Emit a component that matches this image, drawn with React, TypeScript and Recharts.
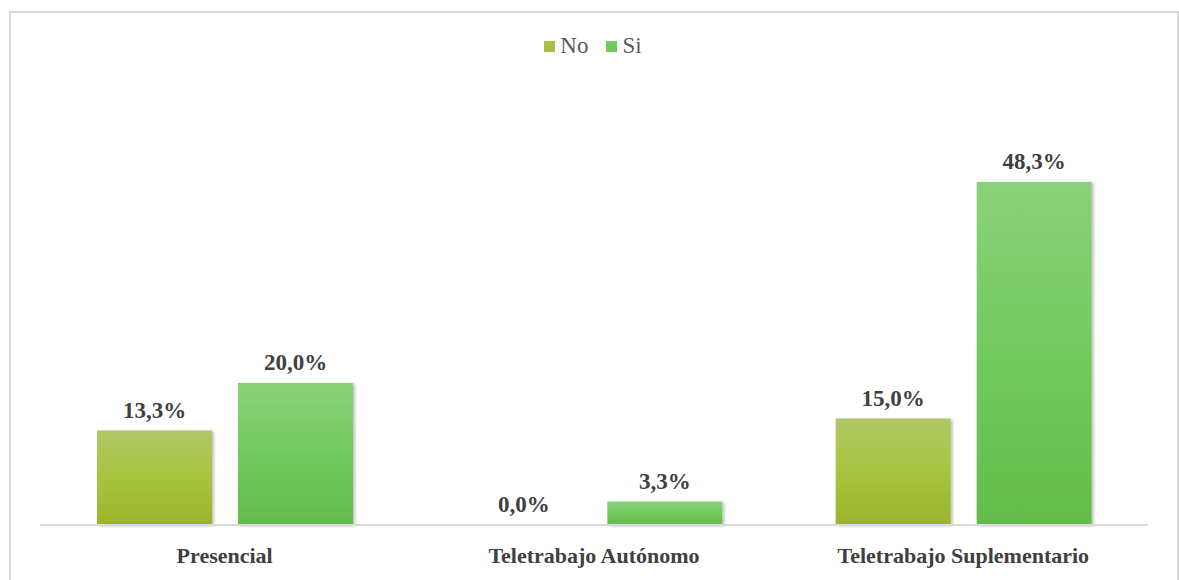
import { BarChart, Bar, XAxis, YAxis, LabelList } from 'recharts';

const categories = ['Presencial', 'Teletrabajo Autónomo', 'Teletrabajo Suplementario'];
const noValues = [13.3, 0.0, 15.0];
const siValues = [20.0, 3.3, 48.3];

const data = categories.map((name, i) => ({ name, No: noValues[i], Si: siValues[i] }));

const fmt = (v: number) => v.toFixed(1).replace('.', ',') + '%';
const SERIF = '"Times New Roman", "Liberation Serif", "DejaVu Serif", serif';

const legendItems = [
  { label: 'No', color: '#a6c23f' },
  { label: 'Si', color: '#72c95e' },
];

const labelStyle = { fill: '#404040', fontSize: 23, fontWeight: 700, fontFamily: SERIF };

export default function App() {
  return (
    <div style={{ position: 'absolute', left: 0, top: 0, width: 1179, height: 580, background: '#fff', overflow: 'hidden' }}>
      <div style={{ position: 'absolute', left: 9, top: 11, width: 1166, height: 600, border: '2px solid #d9d9d9' }} />
      <div style={{ position: 'absolute', left: 0, top: 33, width: 1186, display: 'flex', justifyContent: 'center', gap: 18, fontFamily: SERIF, fontSize: 23, color: '#595959' }}>
        {legendItems.map((it) => (
          <span key={it.label} style={{ display: 'flex', alignItems: 'center', gap: 5 }}>
            <span style={{ width: 11, height: 11, background: it.color, display: 'inline-block' }} />
            {it.label}
          </span>
        ))}
      </div>
      <BarChart
        width={1179}
        height={580}
        data={data}
        margin={{ top: 99, right: 31, bottom: 25, left: 40 }}
        barSize={115}
        barGap={26}
        style={{ position: 'absolute', left: 0, top: 0 }}
      >
        <defs>
          <linearGradient id="gNo" x1="0" y1="0" x2="0" y2="1">
            <stop offset="0%" stopColor="#b0c767" />
            <stop offset="50%" stopColor="#a8c43e" />
            <stop offset="100%" stopColor="#9ab42c" />
          </linearGradient>
          <linearGradient id="gSi" x1="0" y1="0" x2="0" y2="1">
            <stop offset="0%" stopColor="#8ad27a" />
            <stop offset="50%" stopColor="#72ca5e" />
            <stop offset="100%" stopColor="#63bc4a" />
          </linearGradient>
          <filter id="sh" x="-10%" y="-10%" width="130%" height="130%">
            <feDropShadow dx="2" dy="1" stdDeviation="1.5" floodColor="#000" floodOpacity="0.25" />
          </filter>
        </defs>
        <XAxis
          dataKey="name"
          height={30}
          axisLine={{ stroke: '#d9d9d9', strokeWidth: 2 }}
          tickLine={false}
          tick={{ fill: '#404040', fontSize: 22, fontWeight: 700, fontFamily: SERIF }}
          dy={14}
        />
        <YAxis hide domain={[0, 60]} />
        <Bar dataKey="No" fill="url(#gNo)" filter="url(#sh)" minPointSize={0.001} isAnimationActive={false}>
          <LabelList dataKey="No" position="top" offset={13} formatter={(v: number) => fmt(v)} style={labelStyle} />
        </Bar>
        <Bar dataKey="Si" fill="url(#gSi)" filter="url(#sh)" isAnimationActive={false}>
          <LabelList dataKey="Si" position="top" offset={13} formatter={(v: number) => fmt(v)} style={labelStyle} />
        </Bar>
      </BarChart>
    </div>
  );
}
